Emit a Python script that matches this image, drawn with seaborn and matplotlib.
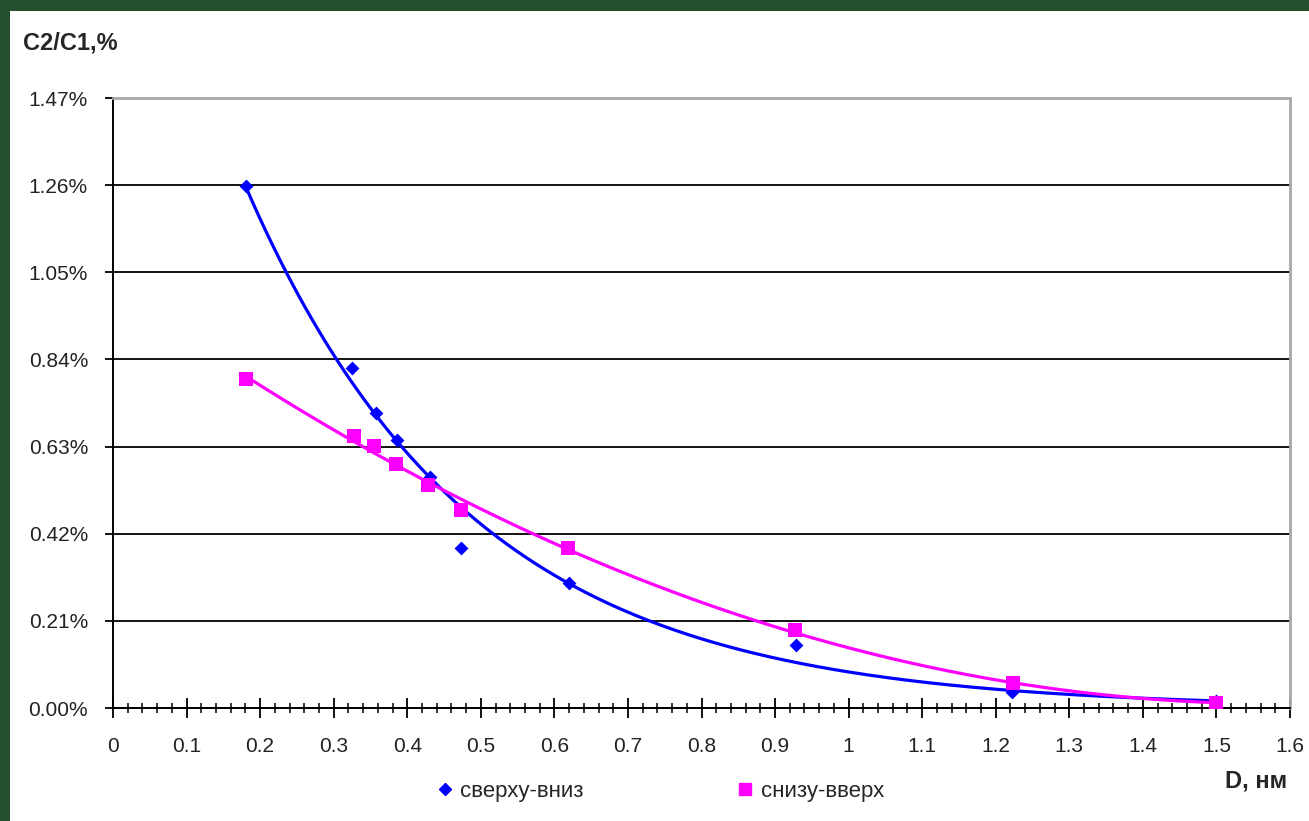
import numpy as np
import pandas as pd
import matplotlib
matplotlib.use("Agg")
import matplotlib.pyplot as plt
from matplotlib.patches import Rectangle
from matplotlib.lines import Line2D
from matplotlib.ticker import MultipleLocator, FixedLocator
import seaborn as sns

# ---- data ----
blue_x = [0.181, 0.325, 0.357, 0.386, 0.431, 0.473, 0.620, 0.928, 1.222, 1.500]
blue_y = [1.258, 0.819, 0.711, 0.646, 0.557, 0.386, 0.301, 0.152, 0.038, 0.016]
pink_x = [0.181, 0.327, 0.355, 0.385, 0.428, 0.473, 0.618, 0.927, 1.223, 1.500]
pink_y = [0.793, 0.655, 0.631, 0.588, 0.537, 0.477, 0.386, 0.188, 0.060, 0.012]
series_names = ["сверху-вниз", "снизу-вверх"]
y_ticks = [0.00, 0.21, 0.42, 0.63, 0.84, 1.05, 1.26, 1.47]
x_ticks = [0, 0.1, 0.2, 0.3, 0.4, 0.5, 0.6, 0.7, 0.8, 0.9, 1, 1.1, 1.2, 1.3, 1.4, 1.5, 1.6]

BLUE = "#0000ff"
PINK = "#ff00ff"

sns.set_theme(style="white")
plt.rcParams['font.family'] = ['Liberation Sans Narrow', 'Liberation Sans', 'DejaVu Sans']

fig = plt.figure(figsize=(13.09, 8.21), dpi=100)
fig.patch.set_facecolor("#24502e")
fig.patches.append(Rectangle((10 / 1309, 0), 1 - 10 / 1309, 1 - 11 / 821,
                             transform=fig.transFigure, facecolor="white",
                             edgecolor="none", zorder=-5))

ax = fig.add_axes([113 / 1309, 1 - 708 / 821, (1290 - 113) / 1309, (708 - 98) / 821])
ax.set_zorder(2)
ax.set_facecolor("white")

# trendlines fitted from the data: exponential (blue), 2nd-order polynomial (pink)
bx = np.array(blue_x); by = np.array(blue_y)
px = np.array(pink_x); py = np.array(pink_y)
cb = np.polyfit(bx, np.log(by), 1)
cp = np.polyfit(px, py, 2)
xb = np.linspace(bx.min(), bx.max(), 300)
xp = np.linspace(px.min(), px.max(), 300)
trend = pd.DataFrame({
    "x": np.concatenate([xb, xp]),
    "y": np.concatenate([np.exp(np.polyval(cb, xb)), np.polyval(cp, xp)]),
    "s": [series_names[0]] * len(xb) + [series_names[1]] * len(xp),
})
pal = {series_names[0]: BLUE, series_names[1]: PINK}

sns.lineplot(data=trend, x="x", y="y", hue="s", palette=pal, lw=2.3,
             legend=False, ax=ax, zorder=3, sort=False, estimator=None)
sns.scatterplot(x=blue_x, y=blue_y, marker="D", color=BLUE, s=50, linewidth=0,
                legend=False, ax=ax, zorder=4)
sns.scatterplot(x=pink_x, y=pink_y, marker="s", color=PINK, s=90, linewidth=0,
                legend=False, ax=ax, zorder=5)

ax.set_xlim(0, 1.6)
ax.set_ylim(0, 1.47)
ax.yaxis.set_major_locator(FixedLocator(y_ticks))
ax.xaxis.set_major_locator(FixedLocator(x_ticks))
ax.xaxis.set_minor_locator(MultipleLocator(0.02))
ax.set_yticklabels([f"{v:.2f}%" for v in y_ticks])
ax.set_xticklabels([f"{v:g}" for v in x_ticks])
ax.grid(axis="y", color="black", lw=1.3, zorder=1)
ax.set_axisbelow(True)

for side in ["left", "bottom"]:
    ax.spines[side].set_color("black")
    ax.spines[side].set_linewidth(1.4)
for side in ["top", "right"]:
    ax.spines[side].set_color("#a8a8a8")
    ax.spines[side].set_linewidth(2)

ax.tick_params(axis="x", which="major", direction="inout", length=14, width=1.3,
               color="black", labelsize=15, pad=14, bottom=True)
ax.tick_params(axis="x", which="minor", direction="inout", length=7, width=1.1,
               color="black", bottom=True)
ax.tick_params(axis="y", which="major", direction="out", length=6, width=1.3,
               color="black", labelsize=15, pad=12, left=True)
for lab in ax.get_xticklabels() + ax.get_yticklabels():
    lab.set_color("#222222")
ax.set_xlabel(""); ax.set_ylabel("")

fig.text(23 / 1309, 1 - 43 / 821, "C2/C1,%", fontsize=17, fontweight="bold",
         ha="left", va="center", family=['Liberation Sans', 'DejaVu Sans'])
fig.text(1287 / 1309, 1 - 781 / 821, "D, нм", fontsize=17, fontweight="bold",
         ha="right", va="center", family=['Liberation Sans', 'DejaVu Sans'])

handles = [Line2D([], [], ls="none", marker="D", color=BLUE, markersize=6),
           Line2D([], [], ls="none", marker="s", color=PINK, markersize=9)]
fig.legend(handles, series_names, loc="center left", ncol=2, frameon=False,
           bbox_to_anchor=(417 / 1309, 1 - 791 / 821), fontsize=16,
           handlelength=0.7, handletextpad=0.35, columnspacing=6.9)

fig.savefig("out.png", dpi=100, facecolor=fig.get_facecolor())
